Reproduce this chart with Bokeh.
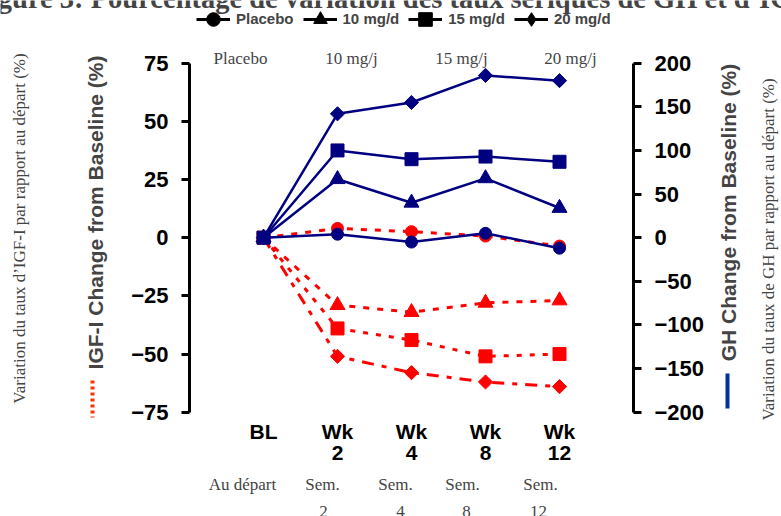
import numpy as np
from bokeh.plotting import figure
from bokeh.models import (Range1d, LinearAxis, FixedTicker, Label, Legend, LegendItem, Arrow)
from bokeh.embed import file_html
from bokeh.resources import INLINE

# ---------------- data ----------------
x_idx = [0, 1, 2, 3, 4]
x_labels_row1 = ["BL", "Wk", "Wk", "Wk", "Wk"]
x_labels_row2 = ["", "2", "4", "8", "12"]
x_labels_fr_top = ["Au départ", "Sem.", "Sem.", "Sem.", "Sem."]
x_labels_fr_num = ["", "2", "4", "8", "12"]
groups_fr = ["Placebo", "10 mg/j", "15 mg/j", "20 mg/j"]
legend_labels = ["Placebo", "10 mg/d", "15 mg/d", "20 mg/d"]

# GH change from baseline (%), right axis
gh_placebo = [0, 4, -5, 5, -12]
gh_10 = [0, 67, 40, 68, 34]
gh_15 = [0, 100, 90, 93, 87]
gh_20 = [0, 142, 155, 186, 180]

# IGF-I change from baseline (%), left axis
igf_placebo = [0, 4, 2.6, 0.7, -3.6]
igf_10 = [0, -29, -32, -28, -27]
igf_15 = [0, -39, -44, -51, -50]
igf_20 = [0, -51, -58, -62, -64]

left_ticks = [-75, -50, -25, 0, 25, 50, 75]
right_ticks = [-200, -150, -100, -50, 0, 50, 100, 150, 200]

title = "Figure 3: Pourcentage de variation des taux sériques de GH et d’IGF-I"
igf_title = "IGF-I Change from Baseline (%)"
gh_title = "GH Change from Baseline (%)"
igf_title_fr = "Variation du taux d’IGF-I par rapport au départ (%)"
gh_title_fr = "Variation du taux de GH par rapport au départ (%)"

# ---------------- layout / style ----------------
SANS = "Liberation Sans"
SERIF = "Liberation Serif"
NAVY = "#000080"
RED = "#ff0000"
W, H = 781, 516
PX_L, PX_R = 189.0, 633.0      # canvas x of the two vertical axes
PY_T, PY_B = 62.7, 411.7       # canvas y of the axis top / bottom
X_LO, X_HI = -1.0, 5.0
Y_LO, Y_HI = -75.0, 75.0
GH_LO, GH_HI = -200.0, 200.0

xu = (X_HI - X_LO) / (PX_R - PX_L)
yu = (Y_HI - Y_LO) / (PY_B - PY_T)
gu = (GH_HI - GH_LO) / (PY_B - PY_T)

def sx(x):
    return x

def sy(y):
    return H - y

p = figure(width=W, height=H, output_backend="svg", toolbar_location=None,
           x_range=Range1d(X_LO - PX_L * xu, X_HI + (W - PX_R) * xu),
           y_range=Range1d(Y_LO - (H - PY_B) * yu, Y_HI + PY_T * yu),
           min_border=0, min_border_left=0, min_border_right=0,
           min_border_top=0, min_border_bottom=0,
           x_axis_location=None, y_axis_location=None)
p.extra_y_ranges = {"gh": Range1d(GH_LO - (H - PY_B) * gu, GH_HI + PY_T * gu)}
p.xgrid.visible = False
p.ygrid.visible = False
p.outline_line_color = None
p.background_fill_color = "white"
p.border_fill_color = "white"

def style_axis(ax, size):
    ax.axis_line_width = 3
    ax.axis_line_color = "black"
    ax.major_tick_line_width = 3
    ax.major_tick_line_color = "black"
    ax.major_tick_in = 0
    ax.major_tick_out = 8
    ax.minor_tick_line_color = None
    ax.major_label_text_font = SANS
    ax.major_label_text_font_style = "bold"
    ax.major_label_text_font_size = size
    ax.major_label_text_color = "black"
    ax.major_label_standoff = 13

yl = LinearAxis(ticker=FixedTicker(ticks=left_ticks), fixed_location=X_LO, bounds=(Y_LO, Y_HI))
style_axis(yl, "22px")
p.add_layout(yl, "left")

yr = LinearAxis(y_range_name="gh", ticker=FixedTicker(ticks=right_ticks), fixed_location=X_HI,
                bounds=(GH_LO, GH_HI))
style_axis(yr, "22px")
p.add_layout(yr, "right")

for labels, standoff in [(x_labels_row1, 8), (x_labels_row2, 34)]:
    xa = LinearAxis(ticker=FixedTicker(ticks=x_idx), fixed_location=Y_LO, bounds=(0, 4),
                    major_label_overrides={i: t for i, t in zip(x_idx, labels)})
    style_axis(xa, "21px")
    xa.axis_line_color = None
    xa.major_tick_line_color = None
    xa.major_tick_out = 0
    xa.major_label_standoff = standoff
    p.add_layout(xa, "below")

# ---------------- series ----------------
red_sets = [(igf_placebo, "circle", 12, 0, "6 8"),
            (igf_10, "triangle", 15, 0, "6 8"),
            (igf_15, "square", 13, 0, "5 8"),
            (igf_20, "square", 10, np.pi / 4, "12 8 5 8")]
for ys, mk, sz, ang, dash in red_sets:
    p.line(x_idx, ys, line_color=RED, line_width=3, line_dash=dash)
    p.scatter(x_idx, ys, marker=mk, size=sz, angle=ang, color=RED)

blue_sets = [(gh_20, "square", 10, np.pi / 4),
             (gh_10, "triangle", 15, 0),
             (gh_placebo, "circle", 12, 0),
             (gh_15, "square", 13, 0)]
for ys, mk, sz, ang in blue_sets:
    p.line(x_idx, ys, line_color=NAVY, line_width=2.5, y_range_name="gh")
    p.scatter(x_idx, ys, marker=mk, size=sz, angle=ang, color=NAVY, y_range_name="gh")

# ---------------- legend (black glyphs, no visible data) ----------------
leg_markers = ["circle", "triangle", "square", "diamond"]
items = []
for lab, mk in zip(legend_labels, leg_markers):
    lr = p.line(x=[np.nan], y=[np.nan], line_color="black", line_width=3)
    sr = p.scatter(x=[np.nan], y=[np.nan], marker=mk, size=13, color="black")
    items.append(LegendItem(label=lab, renderers=[lr, sr]))
legend = Legend(items=items, orientation="horizontal", location=(sx(196), sy(35.5)),
                glyph_width=34, glyph_height=34, label_standoff=6, spacing=9,
                padding=0, margin=0, border_line_color=None, background_fill_alpha=0,
                label_text_font=SANS, label_text_font_style="bold", label_text_font_size="15px",
                label_height=34)
p.add_layout(legend)

# ---------------- texts ----------------
p.add_layout(Label(x=sx(-28), y=sy(-2.5), x_units="screen", y_units="screen", text=title,
                   text_font=SERIF, text_font_style="bold", text_font_size="28.5px",
                   text_align="left", text_baseline="alphabetic"))

for t, cx in zip(groups_fr, [240, 351, 461, 570]):
    p.add_layout(Label(x=sx(cx), y=sy(57.5), x_units="screen", y_units="screen", text=t,
                       text_font=SERIF, text_font_size="17px", text_align="center",
                       text_baseline="alphabetic"))

for t, n, cx, nx in zip(x_labels_fr_top, x_labels_fr_num, [242, 322, 395, 462, 540], [242, 323, 400, 466, 538]):
    p.add_layout(Label(x=sx(cx), y=sy(483.5), x_units="screen", y_units="screen", text=t,
                       text_font=SERIF, text_font_size="17px", text_align="center",
                       text_baseline="alphabetic"))
    if n:
        p.add_layout(Label(x=sx(nx), y=sy(511), x_units="screen", y_units="screen", text=n,
                           text_font=SERIF, text_font_size="17px", text_align="center",
                           text_baseline="alphabetic"))

rot = np.pi / 2
p.add_layout(Label(x=sx(19), y=sy(228), x_units="screen", y_units="screen", text=igf_title_fr,
                   text_font=SERIF, text_font_size="17px", text_align="center",
                   text_baseline="middle", angle=rot))
p.add_layout(Label(x=sx(95), y=sy(212), x_units="screen", y_units="screen", text=igf_title,
                   text_font=SANS, text_font_style="bold", text_font_size="21px",
                   text_align="center", text_baseline="middle", angle=rot))
p.add_layout(Label(x=sx(728), y=sy(212), x_units="screen", y_units="screen", text=gh_title,
                   text_font=SANS, text_font_style="bold", text_font_size="21px",
                   text_align="center", text_baseline="middle", angle=rot))
p.add_layout(Label(x=sx(768), y=sy(249), x_units="screen", y_units="screen", text=gh_title_fr,
                   text_font=SERIF, text_font_size="17px", text_align="center",
                   text_baseline="middle", angle=rot))

p.add_layout(Arrow(end=None, x_start=sx(92), y_start=sy(380), x_end=sx(92), y_end=sy(417),
                   start_units="screen", end_units="screen", line_color="#ff3300",
                   line_width=4, line_dash="3 3"))
p.add_layout(Arrow(end=None, x_start=sx(727), y_start=sy(373), x_end=sx(727), y_end=sy(408),
                   start_units="screen", end_units="screen", line_color="#003399",
                   line_width=4))

open("out.html", "w").write(file_html(p, INLINE))
